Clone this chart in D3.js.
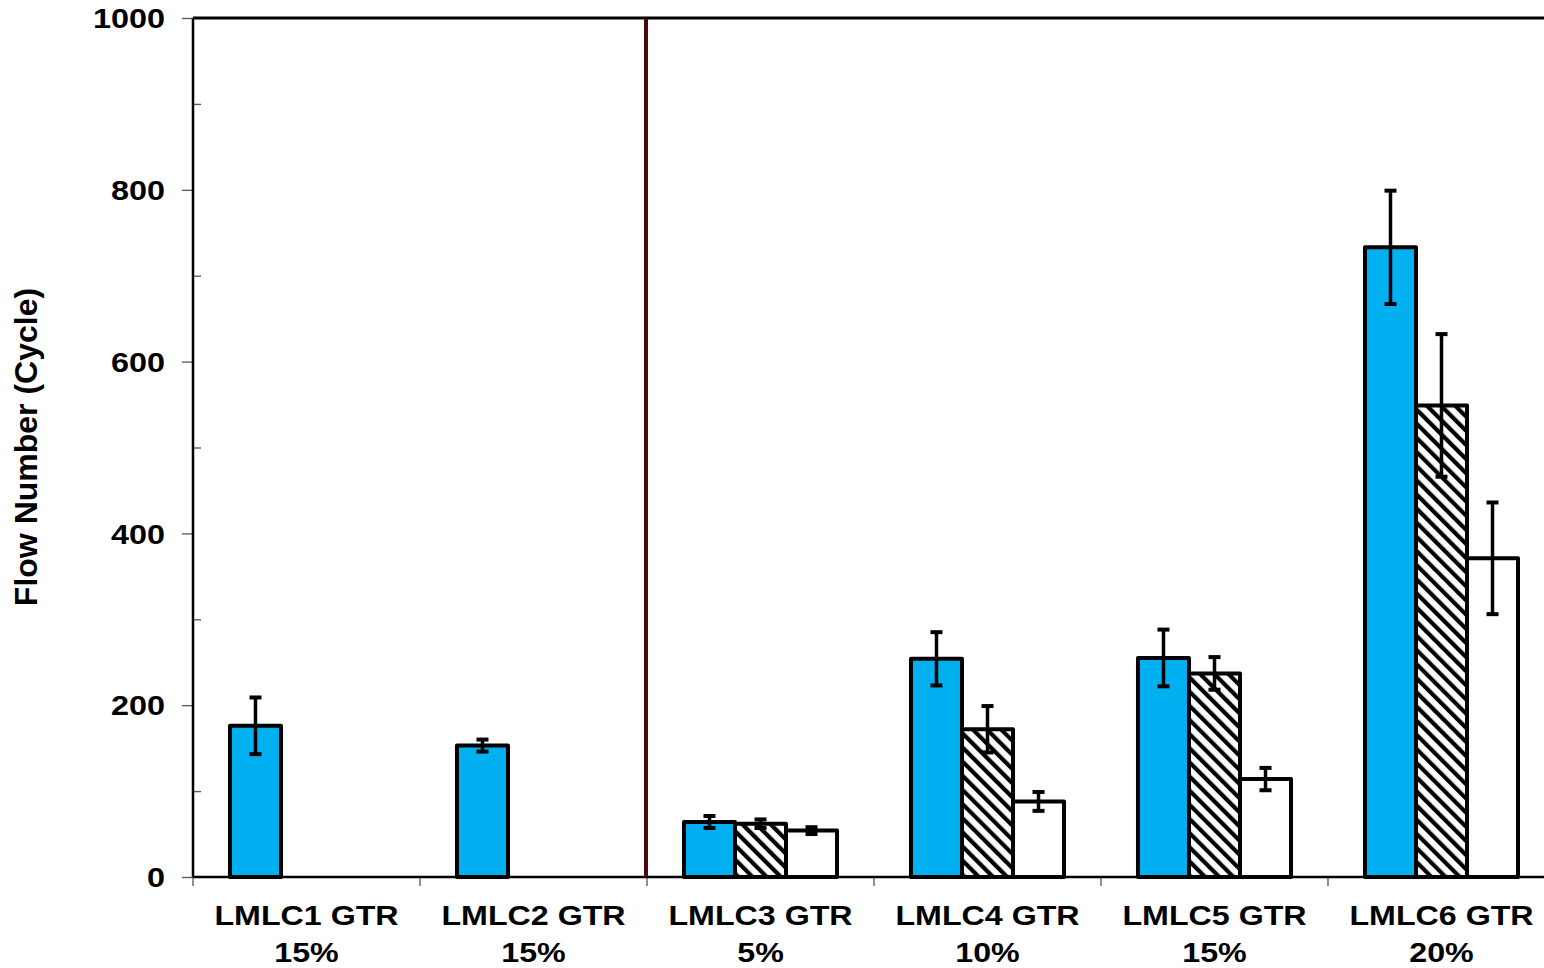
<!DOCTYPE html>
<html>
<head>
<meta charset="utf-8">
<script src="https://cdn.jsdelivr.net/npm/d3@7"></script>
<style>
  body { margin: 0; background: #fff; }
  svg { display: block; }
  text { font-family: "Liberation Sans", Arial, sans-serif; font-weight: bold; fill: #000; }
</style>
</head>
<body>
<svg id="chart" width="1544" height="968"></svg>
<script>
/* DATA */
const categories = ["LMLC1 GTR|15%", "LMLC2 GTR|15%", "LMLC3 GTR|5%", "LMLC4 GTR|10%", "LMLC5 GTR|15%", "LMLC6 GTR|20%"];
const series = ["s1", "s2", "s3"];
const seriesOne = [176, 153, 64, 254, 255, 733];
const seriesOneErr = [33, 7, 7, 31, 33, 66];
const seriesTwo = [null, null, 62, 172, 237, 549];
const seriesTwoErr = [null, null, 5, 27, 19, 83];
const seriesThree = [null, null, 54, 88, 114, 371];
const seriesThreeErr = [null, null, 4, 11, 13, 65];
const yTicks = [0, 200, 400, 600, 800, 1000];
const yMinorTicks = [100, 300, 500, 700, 900];
const dividerAfter = 2; // line between group 2 and 3

const fills = { s1: "#00B0F0", s2: "url(#hatch)", s3: "#ffffff" };

/* SCALES */
const svg = d3.select("#chart");
const mLeft = 193, mTop = 18, mBottom = 877, mRight = 1555;
const stretch = 1.15; // text in the picture is a bit wider than Arial

const y = d3.scaleLinear().domain([0, 1000]).range([mBottom, mTop]);
const x0 = d3.scaleBand().domain(categories).range([mLeft, mRight]).paddingInner(0).paddingOuter(0);
const x1 = d3.scaleBand().domain(series).range([0, x0.bandwidth()]).paddingInner(0).paddingOuter(0.725);

/* HATCH PATTERN */
const defs = svg.append("defs");
const pat = defs.append("pattern")
  .attr("id", "hatch")
  .attr("patternUnits", "userSpaceOnUse")
  .attr("width", 10).attr("height", 10)
  .attr("patternTransform", "rotate(-45)");
pat.append("rect").attr("width", 10).attr("height", 10).attr("fill", "#fff");
pat.append("rect").attr("width", 4.2).attr("height", 10).attr("fill", "#000");

/* BUILD ROWS */
let rows = [];
categories.forEach(function(c, i){
  [[seriesOne, seriesOneErr], [seriesTwo, seriesTwoErr], [seriesThree, seriesThreeErr]].forEach(function(s, k){
    if (s[0][i] != null) {
      rows.push({ cat: c, key: series[k], value: s[0][i], err: s[1][i] });
    }
  });
});

/* AXES */
const yAxis = d3.axisLeft(y).tickValues(yTicks).tickSize(11).tickPadding(17).tickFormat(d3.format("d"));
const gy = svg.append("g").attr("transform", "translate(" + mLeft + ",0)").call(yAxis);
gy.select(".domain").remove();
gy.selectAll(".tick line").attr("stroke", "#555").attr("stroke-width", 1.3);
gy.selectAll(".tick text")
  .style("font-size", "27px")
  .attr("x", 0)
  .attr("dy", "0.36em")
  .attr("transform", "translate(-28,0) scale(1.2,1)");

const yMinor = d3.axisRight(y).tickValues(yMinorTicks).tickSize(8).tickFormat("");
const gym = svg.append("g").attr("transform", "translate(" + mLeft + ",0)").call(yMinor);
gym.select(".domain").remove();
gym.selectAll(".tick line").attr("stroke", "#555").attr("stroke-width", 1.3);

// x ticks at group boundaries
const xBounds = categories.map(function(c){ return x0(c); });
svg.append("g").selectAll("line").data(xBounds).join("line")
  .attr("x1", d => d).attr("x2", d => d)
  .attr("y1", mBottom).attr("y2", mBottom + 9)
  .attr("stroke", "#555").attr("stroke-width", 1.3);

/* BARS */
const bars = svg.append("g");
bars.selectAll("rect").data(rows).join("rect")
  .attr("x", d => x0(d.cat) + x1(d.key))
  .attr("y", d => y(d.value))
  .attr("width", x1.bandwidth())
  .attr("height", d => y(0) - y(d.value))
  .attr("fill", d => fills[d.key])
  .attr("stroke", "#000")
  .attr("stroke-width", 4)
  .attr("stroke-linejoin", "round");

/* ERROR BARS */
const errs = svg.append("g").attr("stroke", "#000");
rows.forEach(function(d){
  let cx = x0(d.cat) + x1(d.key) + x1.bandwidth() / 2;
  errs.append("line")
    .attr("x1", cx).attr("x2", cx)
    .attr("y1", y(d.value + d.err)).attr("y2", y(d.value - d.err))
    .attr("stroke-width", 3.5);
  [d.value + d.err, d.value - d.err].forEach(function(v){
    errs.append("line")
      .attr("x1", cx - 6).attr("x2", cx + 6)
      .attr("y1", y(v)).attr("y2", y(v))
      .attr("stroke-width", 4);
  });
});

/* FRAME LINES */
svg.append("line").attr("x1", mLeft).attr("x2", 1544).attr("y1", mTop).attr("y2", mTop)
  .attr("stroke", "#000").attr("stroke-width", 3);
svg.append("line").attr("x1", mLeft).attr("x2", 1544).attr("y1", mBottom).attr("y2", mBottom)
  .attr("stroke", "#000").attr("stroke-width", 2.5);
svg.append("line").attr("x1", mLeft).attr("x2", mLeft).attr("y1", mTop).attr("y2", mBottom)
  .attr("stroke", "#000").attr("stroke-width", 2.5);

// divider between groups
let dx = x0(categories[dividerAfter]) - 1;
svg.append("line").attr("x1", dx).attr("x2", dx).attr("y1", mTop + 1).attr("y2", mBottom)
  .attr("stroke", "#4a0a0a").attr("stroke-width", 4);

/* X LABELS */
const labels = svg.append("g");
categories.forEach(function(c){
  let parts = c.split("|");
  let cx = x0(c) + x0.bandwidth() / 2;
  let t = labels.append("text")
    .attr("text-anchor", "middle")
    .attr("transform", "translate(" + cx + ",0) scale(" + stretch + ",1)")
    .style("font-size", "28px");
  t.append("tspan").attr("x", 0).attr("y", 925).text(parts[0]);
  t.append("tspan").attr("x", 0).attr("y", 962).text(parts[1]);
});

/* Y TITLE */
svg.append("text")
  .attr("transform", "translate(37,447) rotate(-90)")
  .attr("text-anchor", "middle")
  .style("font-size", "32px")
  .text("Flow Number (Cycle)");
</script>
</body>
</html>
